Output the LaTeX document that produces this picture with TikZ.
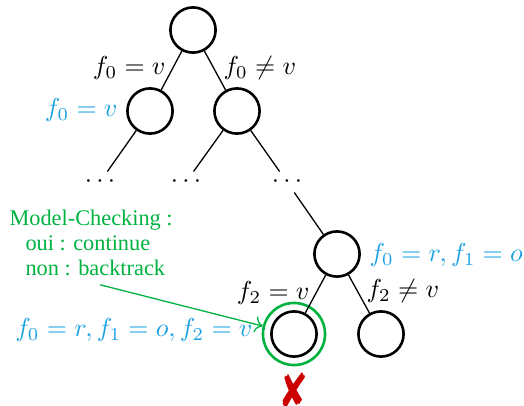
\documentclass[tikz,border=0pt]{standalone}
\usepackage{fontspec}
\usepackage{pifont}
\newfontfamily\gtext{Liberation Serif}
\usetikzlibrary{arrows.meta}
\definecolor{myblue}{RGB}{27,161,226}
\definecolor{mygreen}{RGB}{0,178,64}
\definecolor{myred}{RGB}{204,0,0}
\begin{document}
\begin{tikzpicture}[x=0.385pt,y=-0.385pt,
  st/.style={circle,draw,line width=1pt,inner sep=0pt,minimum size=17.4pt},
  dotsn/.style={inner sep=0pt,minimum height=7.7pt,minimum width=10pt},
  edge/.style={line width=0.5pt},
  lab/.style={inner sep=0pt},
  blab/.style={lab,text=myblue},
  gtxt/.style={inner sep=0pt,text=mygreen,font=\gtext\fontsize{8.6}{10}\selectfont,anchor=base west}]
\useasboundingbox (0,0) rectangle (524,405);
% nodes
\node[st] (r) at (193,30) {};
\node[st] (a) at (150,111) {};
\node[st] (b) at (237,111) {};
\node[dotsn] (d1) at (100,182) {$\cdots$};
\node[dotsn] (d2) at (186,182) {$\cdots$};
\node[dotsn] (d3) at (287,182) {$\cdots$};
\node[st] (c) at (337,254) {};
\node[st] (d) at (294,334) {};
\node[st] (e) at (381,334) {};
\node[circle,draw=mygreen,line width=1pt,inner sep=0pt,minimum size=23.9pt] (gc) at (294,334) {};
% edges
\draw[edge] (r) -- (a);
\draw[edge] (r) -- (b);
\draw[edge] (a) -- (d1);
\draw[edge] (b) -- (d2);
\draw[edge] (b) -- (d3);
\draw[edge] (d3) -- (c);
\draw[edge] (c) -- (d);
\draw[edge] (c) -- (e);
% labels
\node[lab,anchor=east] (l1) at (166,68) {$f_0 = v$};
\node[lab,anchor=west] (l2) at (223,68) {$f_0 \neq v$};
\node[blab,anchor=east] (b1) at (118,110) {$f_0 = v$};
\node[blab,anchor=west] (b2) at (369,255) {$f_0 = r, f_1 = o$};
\node[lab,anchor=east] (l3) at (310,293) {$f_2 = v$};
\node[lab,anchor=west] (l4) at (366,291) {$f_2 \neq v$};
\node[blab,anchor=east] (b3) at (253,330) {$f_0 = r, f_1 = o, f_2 = v$};
% green text
\node[gtxt] (g1) at (9,225) {Model-Checking :};
\node[gtxt] (g2) at (25,250) {oui : continue};
\node[gtxt] (g3) at (25,275) {non : backtrack};
\draw[mygreen,line width=0.5pt,-{To[length=3pt]}] ([shift={(5,9)}]g3.south) -- (gc);
% red cross
\node[text=myred,inner sep=0pt,xscale=0.75,font=\fontsize{19}{19}\selectfont] (x) at (294,390) {\ding{56}};
\end{tikzpicture}
\end{document}
